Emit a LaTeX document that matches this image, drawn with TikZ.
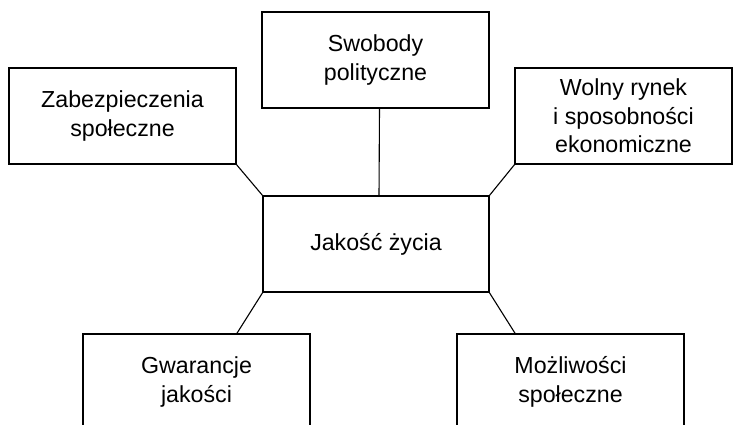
\documentclass[tikz,border=0pt]{standalone}
\usepackage{fontspec}
\setmainfont{Liberation Sans}
\usepackage{tikz}

\begin{document}
\begin{tikzpicture}[x=1pt, y=-1pt,
    box/.style={draw, line width=1.1pt, rectangle, align=center,
      minimum width=227pt, minimum height=96pt, inner sep=0pt, outer sep=0pt,
      font=\fontsize{23.2}{28.5}\selectfont},
    link/.style={line width=1.1pt}]
    \useasboundingbox (0, 0) rectangle (733, 424);
    \clip (0, 0) rectangle (733, 424);

    \node[box] (swob) at (375.5, 60) {Swobody\\polityczne};
    \node[box] (zab) at (122.5, 116) {Zabezpieczenia\\społeczne};
    \node[box, minimum width=217pt] (wol) at (623.5, 116) {Wolny rynek\\i sposobności\\ekonomiczne};

    \node[box, minimum width=226pt] (jak) at (376, 244) {Jakość życia};

    \node[box] (gwar) at (196.5, 382) {Gwarancje\\jakości};
    \node[box] (moz) at (570.5, 382) {Możliwości\\społeczne};

    \draw[link] ([xshift=4pt]swob.south)--([xshift=3pt]jak.north);
    \draw[link] (zab.south east)--(jak.north west);
    \draw[link] (wol.south west)--(jak.north east);
    \draw[link] (jak.south west)--([xshift=40pt]gwar.north);
    \draw[link] (jak.south east)--([xshift=-55pt]moz.north);
\end{tikzpicture}
\end{document}
